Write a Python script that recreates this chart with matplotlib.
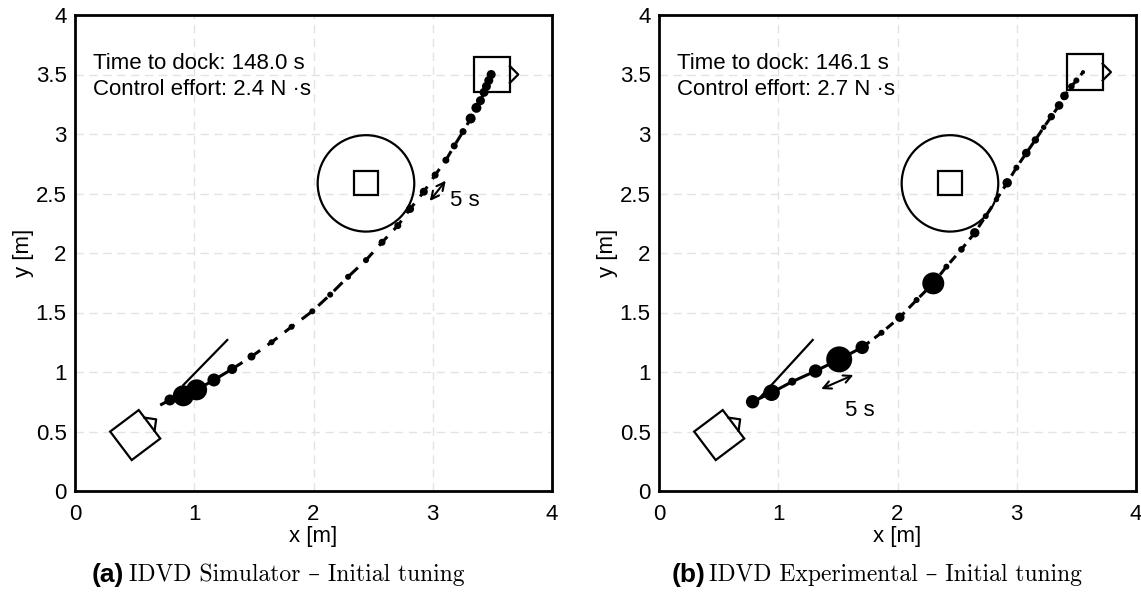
import numpy as np
import matplotlib
matplotlib.use("Agg")
import matplotlib.pyplot as plt
from matplotlib.patches import Polygon, Circle
from matplotlib.ticker import FuncFormatter

# ---------------- data ----------------
# (a) simulator trajectory
xa = [0.726, 0.796, 0.908, 1.02, 1.165, 1.318, 1.48, 1.648, 1.816, 1.99, 2.14, 2.29,
      2.44, 2.575, 2.707, 2.81, 2.925, 3.02, 3.11, 3.18, 3.254, 3.318, 3.366, 3.40,
      3.43, 3.45, 3.47, 3.49]
ya = [0.728, 0.765, 0.80, 0.85, 0.933, 1.025, 1.13, 1.25, 1.38, 1.51, 1.65, 1.80,
      1.94, 2.09, 2.23, 2.37, 2.515, 2.655, 2.78, 2.90, 3.02, 3.13, 3.22, 3.28,
      3.35, 3.40, 3.45, 3.50]
thrust_a = [1, 5.5, 10.5, 10.5, 6.5, 5, 4, 3, 3, 3, 3, 3, 3, 3.5, 3.5, 4, 4, 3.5, 3.5,
            3.5, 3.5, 5, 5, 4.5, 4.5, 4.5, 4.5, 4.5]
n_solid_a = 6

# (b) experimental trajectory
xb = [0.785, 0.944, 1.117, 1.313, 1.511, 1.704, 1.866, 2.02, 2.16, 2.30, 2.41, 2.536,
      2.648, 2.74, 2.83, 2.92, 2.997, 3.08, 3.156, 3.226, 3.29, 3.355, 3.40, 3.458,
      3.50, 3.556]
yb = [0.75, 0.826, 0.919, 1.008, 1.106, 1.207, 1.33, 1.46, 1.605, 1.745, 1.885, 2.03,
      2.17, 2.31, 2.45, 2.59, 2.717, 2.84, 2.95, 3.056, 3.146, 3.24, 3.32, 3.40,
      3.45, 3.52]
thrust_b = [6.7, 8.3, 4, 6.7, 13, 6.7, 3, 4.7, 3, 11, 3, 3.3, 4.7, 3, 2.7, 4.7, 3,
            4.3, 3.7, 2.7, 3.7, 4.3, 4.3, 3.3, 3, 2]
n_solid_b = 6

start_pose = (0.505, 0.47, 37.0)
dock_a = (3.497, 3.50, 0.0)
dock_b = (3.57, 3.52, 0.0)
obstacle = (2.44, 2.585, 0.405)
heading_a = ([0.908, 1.277], [0.89, 1.269])
heading_b = ([0.841, 1.289], [0.779, 1.269])
arrow_a = ((2.975, 2.437), (3.109, 2.608), (3.27, 2.445))
arrow_b = ((1.36, 0.857), (1.63, 0.975), (1.68, 0.68))
info_a = ["Time to dock: 148.0 s", "Control effort: 2.4 N \u00b7s"]
info_b = ["Time to dock: 146.1 s", "Control effort: 2.7 N \u00b7s"]
caption_tags = ["(a)", "(b)"]
captions = ["IDVD Simulator \u2013 Initial tuning", "IDVD Experimental \u2013 Initial tuning"]
xticks = [0, 1, 2, 3, 4]
yticks = [0, 0.5, 1, 1.5, 2, 2.5, 3, 3.5, 4]

# ---------------- style ----------------
SANS = ["Liberation Sans", "DejaVu Sans"]
plt.rcParams["font.family"] = SANS
FS = 16

fig = plt.figure(figsize=(11.41, 5.96), dpi=100)
W, H = 1141, 596
ax_a = fig.add_axes([75 / W, 1 - 491 / H, 477 / W, 476 / H])
ax_b = fig.add_axes([659 / W, 1 - 491 / H, 477 / W, 476 / H])


def robot(ax, pose, side=0.3, nose=True):
    cx, cy, th = pose
    t = np.deg2rad(th)
    R = np.array([[np.cos(t), -np.sin(t)], [np.sin(t), np.cos(t)]])
    h = side / 2
    sq = np.array([[-h, -h], [h, -h], [h, h], [-h, h]]) @ R.T + [cx, cy]
    ax.add_patch(Polygon(sq, closed=True, fill=False, ec="black", lw=1.6, zorder=4))
    if nose:
        tri = np.array([[h, -0.07], [h + 0.07, 0.0], [h, 0.07]]) @ R.T + [cx, cy]
        ax.plot(tri[:, 0], tri[:, 1], color="black", lw=1.6, zorder=4)


def panel(ax, x, y, thr, nsolid, dock, heading, arrow, info, dash):
    ax.set_xlim(0, 4)
    ax.set_ylim(0, 4)
    ax.set_xticks(xticks)
    ax.set_yticks(yticks)
    ax.xaxis.set_major_formatter(FuncFormatter(lambda v, p: f"{v:g}"))
    ax.yaxis.set_major_formatter(FuncFormatter(lambda v, p: f"{v:g}"))
    ax.tick_params(length=0, labelsize=FS, pad=6)
    ax.tick_params(axis="x", pad=9)
    ax.grid(True, color="#e3e3e3", lw=1.0, ls=(0, (6, 4)))
    ax.set_axisbelow(True)
    for s in ax.spines.values():
        s.set_linewidth(2.0)
    ax.set_xlabel("x [m]", fontsize=FS, labelpad=1)
    ax.set_ylabel("y [m]", fontsize=FS, labelpad=1)

    # obstacle
    ox, oy, orad = obstacle
    ax.add_patch(Circle((ox, oy), orad, fill=False, ec="black", lw=1.6, zorder=3))
    robot(ax, (ox, oy, 0.0), side=0.2, nose=False)

    robot(ax, start_pose)
    robot(ax, dock)

    ax.plot(heading[0], heading[1], color="black", lw=1.6, zorder=3)

    ax.plot(x[nsolid - 1:], y[nsolid - 1:], color="black", lw=2.2, ls=dash, zorder=5)
    ax.plot(x[:nsolid], y[:nsolid], color="black", lw=2.2, ls="-", zorder=5)
    s = (1.44 * np.array(thr)) ** 2
    ax.scatter(x, y, s=s, color="black", lw=0, zorder=6)

    p0, p1, pt = arrow
    ax.annotate("", xy=p1, xytext=p0,
                arrowprops=dict(arrowstyle="<->", color="black", lw=1.5,
                                shrinkA=0, shrinkB=0, mutation_scale=14))
    ax.text(pt[0], pt[1], "5 s", fontsize=FS, ha="center", va="center")

    ax.text(0.148, 3.594, info[0], fontsize=FS, ha="left", va="center")
    ax.text(0.148, 3.37, info[1], fontsize=FS, ha="left", va="center")


panel(ax_a, xa, ya, thrust_a, n_solid_a, dock_a, heading_a, arrow_a, info_a, (0, (4, 3)))
panel(ax_b, xb, yb, thrust_b, n_solid_b, dock_b, heading_b, arrow_b, info_b, (0, (3, 2)))

SERIF = ["cmr10", "DejaVu Serif"]
for tag, cap, x0, x1 in zip(caption_tags, captions, [92, 672], [129, 709]):
    fig.text(x0 / W, 1 - 575 / H, tag, fontsize=19, fontweight="bold",
             family=SANS, ha="left", va="center")
    fig.text(x1 / W, 1 - 575 / H, cap, fontsize=17, family=SERIF,
             ha="left", va="center")

fig.savefig("out.png", dpi=100)
